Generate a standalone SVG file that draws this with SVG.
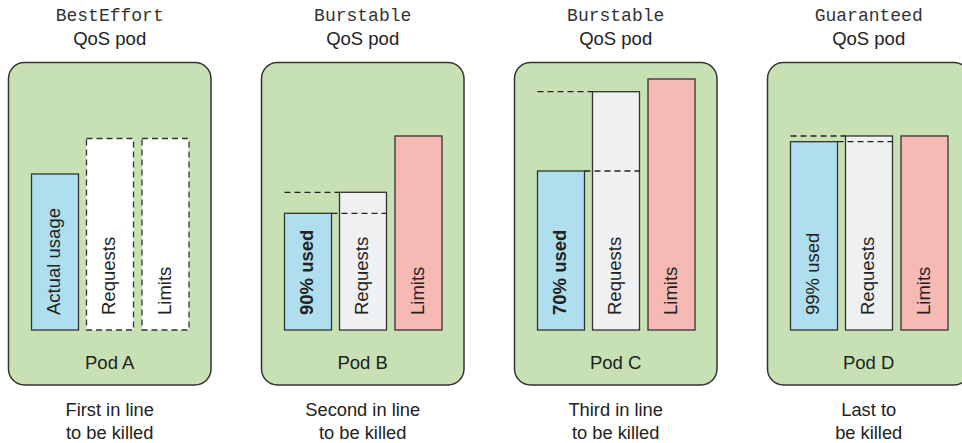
<svg xmlns="http://www.w3.org/2000/svg" width="962" height="443" viewBox="0 0 962 443">
<style>
.box{fill:#c7e0b4;stroke:#333;stroke-width:1.5}
.bar{stroke:#333;stroke-width:1.3}
.use{fill:#afdfef}
.req{fill:#eff0f2}
.lim{fill:#f7b9b3}
.empty{fill:#fff;stroke-dasharray:6 4}
.dash{stroke:#222;stroke-width:1.3;stroke-dasharray:6 4;fill:none}
text{font-family:"Liberation Sans",Arial,sans-serif;font-size:18.5px;fill:#222}
.mono{font-family:"Liberation Mono","Courier New",monospace;font-size:18px;fill:#333}
.c{text-anchor:middle}
.cap{font-size:18.3px}
.b{font-weight:bold}
</style>
<rect width="962" height="443" fill="#fff"/>

<g id="podA">
<text class="mono c" x="109.7" y="20.5">BestEffort</text>
<text class="c" x="109.7" y="45">QoS pod</text>
<rect class="box" x="8.5" y="62.5" width="202.5" height="322.5" rx="16"/>
<rect class="bar use" x="31.5" y="174" width="47" height="156"/>
<rect class="bar empty" x="86.5" y="138.5" width="47" height="191.5"/>
<rect class="bar empty" x="142" y="138.5" width="47" height="191.5"/>
<text transform="translate(60,315) rotate(-90)">Actual usage</text>
<text transform="translate(115,315) rotate(-90)">Requests</text>
<text transform="translate(170.5,315) rotate(-90)">Limits</text>
<text class="c" x="109.7" y="369">Pod A</text>
<text class="c cap" x="109.7" y="416">First in line</text>
<text class="c cap" x="109.7" y="439">to be killed</text>
</g>

<g id="podB">
<text class="mono c" x="362.7" y="20.5">Burstable</text>
<text class="c" x="362.7" y="45">QoS pod</text>
<rect class="box" x="261.5" y="62.5" width="202.5" height="322.5" rx="16"/>
<rect class="bar use" x="284.5" y="213.3" width="47" height="116.7"/>
<rect class="bar req" x="339.5" y="192.3" width="47" height="137.7"/>
<rect class="bar lim" x="395" y="136" width="47" height="194"/>
<line class="dash" x1="284.5" y1="192.3" x2="339.5" y2="192.3"/>
<line class="dash" x1="331.5" y1="213.3" x2="386.5" y2="213.3"/>
<text class="b" transform="translate(313,315) rotate(-90)">90% used</text>
<text transform="translate(368,315) rotate(-90)">Requests</text>
<text transform="translate(423.5,315) rotate(-90)">Limits</text>
<text class="c" x="362.7" y="369">Pod B</text>
<text class="c cap" x="362.7" y="416">Second in line</text>
<text class="c cap" x="362.7" y="439">to be killed</text>
</g>

<g id="podC">
<text class="mono c" x="615.7" y="20.5">Burstable</text>
<text class="c" x="615.7" y="45">QoS pod</text>
<rect class="box" x="514.5" y="62.5" width="202.5" height="322.5" rx="16"/>
<rect class="bar use" x="537.5" y="171" width="47" height="159"/>
<rect class="bar req" x="592.5" y="91.7" width="47" height="238.3"/>
<rect class="bar lim" x="648" y="79" width="47" height="251"/>
<line class="dash" x1="537.5" y1="91.7" x2="592.5" y2="91.7"/>
<line class="dash" x1="584.5" y1="171" x2="639.5" y2="171"/>
<text class="b" transform="translate(566,315) rotate(-90)">70% used</text>
<text transform="translate(621,315) rotate(-90)">Requests</text>
<text transform="translate(676.5,315) rotate(-90)">Limits</text>
<text class="c" x="615.7" y="369">Pod C</text>
<text class="c cap" x="615.7" y="416">Third in line</text>
<text class="c cap" x="615.7" y="439">to be killed</text>
</g>

<g id="podD">
<text class="mono c" x="868.7" y="20.5">Guaranteed</text>
<text class="c" x="868.7" y="45">QoS pod</text>
<rect class="box" x="767.5" y="62.5" width="202.5" height="322.5" rx="16"/>
<rect class="bar use" x="790.5" y="141.7" width="47" height="188.3"/>
<rect class="bar req" x="845.5" y="136" width="47" height="194"/>
<rect class="bar lim" x="901" y="136" width="47" height="194"/>
<line class="dash" x1="790.5" y1="136" x2="845.5" y2="136"/>
<line class="dash" x1="837.5" y1="141.7" x2="892.5" y2="141.7"/>
<text transform="translate(819,315) rotate(-90)">99% used</text>
<text transform="translate(874,315) rotate(-90)">Requests</text>
<text transform="translate(929.5,315) rotate(-90)">Limits</text>
<text class="c" x="868.7" y="369">Pod D</text>
<text class="c cap" x="868.7" y="416">Last to</text>
<text class="c cap" x="868.7" y="439">be killed</text>
</g>

<g id="connectors"></g>
</svg>
